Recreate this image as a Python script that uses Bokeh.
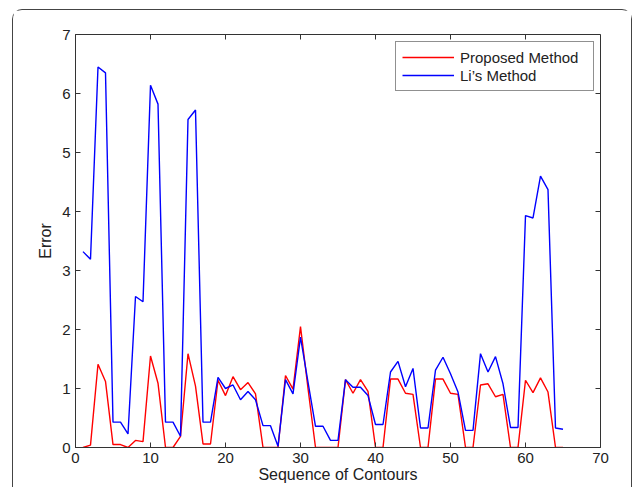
import math
from bokeh.plotting import figure
from bokeh.models import FixedTicker, Legend, LegendItem, Range1d
from bokeh.embed import file_html
from bokeh.resources import INLINE

seq = list(range(1, 66))
proposed = [0.0, 0.04, 1.41, 1.12, 0.05, 0.05, 0.0, 0.12, 0.10, 1.55,
            1.09, 0.0, 0.0, 0.19, 1.59, 1.04, 0.06, 0.06, 1.14, 0.88,
            1.20, 0.98, 1.10, 0.91, 0.0, 0.0, 0.0, 1.22, 0.99, 2.05,
            1.00, 0.0, 0.0, 0.0, 0.0, 1.15, 0.92, 1.15, 0.95, 0.0,
            0.0, 1.16, 1.16, 0.92, 0.90, 0.0, 0.0, 1.16, 1.16, 0.92,
            0.90, 0.0, 0.0, 1.06, 1.08, 0.86, 0.90, 0.0, 0.0, 1.14,
            0.93, 1.18, 0.94, 0.0, 0.0]
lis = [3.32, 3.19, 6.45, 6.35, 0.43, 0.43, 0.23, 2.56, 2.47, 6.14,
       5.82, 0.43, 0.43, 0.19, 5.56, 5.72, 0.43, 0.43, 1.19, 1.00,
       1.06, 0.81, 0.95, 0.81, 0.37, 0.37, 0.02, 1.15, 0.91, 1.87,
       1.11, 0.36, 0.36, 0.12, 0.12, 1.15, 1.02, 1.02, 0.88, 0.39,
       0.39, 1.28, 1.46, 1.03, 1.34, 0.33, 0.33, 1.31, 1.53, 1.25,
       0.94, 0.29, 0.29, 1.59, 1.28, 1.54, 1.08, 0.34, 0.34, 3.93,
       3.89, 4.60, 4.37, 0.33, 0.31]
x_ticks = [0, 10, 20, 30, 40, 50, 60, 70]
y_ticks = [0, 1, 2, 3, 4, 5, 6, 7]

FONT = "Liberation Sans"
AX = "#333333"
TXT = "#222222"

p = figure(width=620, height=478, x_range=Range1d(x_ticks[0], x_ticks[-1]),
           y_range=Range1d(y_ticks[0], y_ticks[-1]),
           output_backend="svg", toolbar_location=None,
           min_border_left=62, min_border_right=33, min_border_top=24, min_border_bottom=41,
           styles={"border": "1px solid #444444", "border-bottom": "none",
                   "border-radius": "10px 10px 0 0",
                   "margin-left": "12px", "margin-top": "9px"})
p.xgrid.visible = False
p.ygrid.visible = False
p.outline_line_color = AX
p.background_fill_color = "white"
p.border_fill_color = "white"

r1 = p.line(seq, proposed, line_color="#ff0000", line_width=1.4)
r2 = p.line(seq, lis, line_color="#0000ff", line_width=1.4)

# inner ticks on the top and right edges (Matlab box style)
p.ray(x=x_ticks, y=[y_ticks[-1]] * len(x_ticks), length=5, length_units="screen",
      angle=-math.pi / 2, line_color=AX, line_width=1)
p.ray(x=[x_ticks[-1]] * len(y_ticks), y=y_ticks, length=5, length_units="screen",
      angle=math.pi, line_color=AX, line_width=1)

p.xaxis.ticker = FixedTicker(ticks=x_ticks)
p.yaxis.ticker = FixedTicker(ticks=y_ticks)

for ax in [p.xaxis[0], p.yaxis[0]]:
    ax.major_tick_in = 5
    ax.major_tick_out = 0
    ax.minor_tick_in = 0
    ax.minor_tick_out = 0
    ax.axis_line_color = AX
    ax.major_tick_line_color = AX
    ax.major_label_text_font = FONT
    ax.major_label_text_font_size = "15px"
    ax.major_label_text_color = TXT
    ax.axis_label_text_font = FONT
    ax.axis_label_text_font_size = "16px"
    ax.axis_label_text_font_style = "normal"
    ax.axis_label_text_color = TXT

p.xaxis[0].major_label_standoff = 5
p.yaxis[0].major_label_standoff = 5
p.xaxis[0].axis_label = "Sequence of Contours"
p.xaxis[0].axis_label_standoff = 0
p.yaxis[0].axis_label = "Error"
p.yaxis[0].axis_label_standoff = 5

legend = Legend(items=[LegendItem(label="Proposed Method", renderers=[r1]),
                       LegendItem(label="Li’s Method", renderers=[r2])],
                location=(320, 356), padding=6, spacing=0,
                glyph_width=52, glyph_height=18, label_height=18, label_width=127,
                label_standoff=6,
                label_text_font=FONT, label_text_font_size="15px", label_text_color=TXT,
                border_line_color=TXT, border_line_width=1,
                background_fill_color="white", background_fill_alpha=1.0)
p.add_layout(legend)

open("out.html", "w").write(file_html(p, INLINE))
